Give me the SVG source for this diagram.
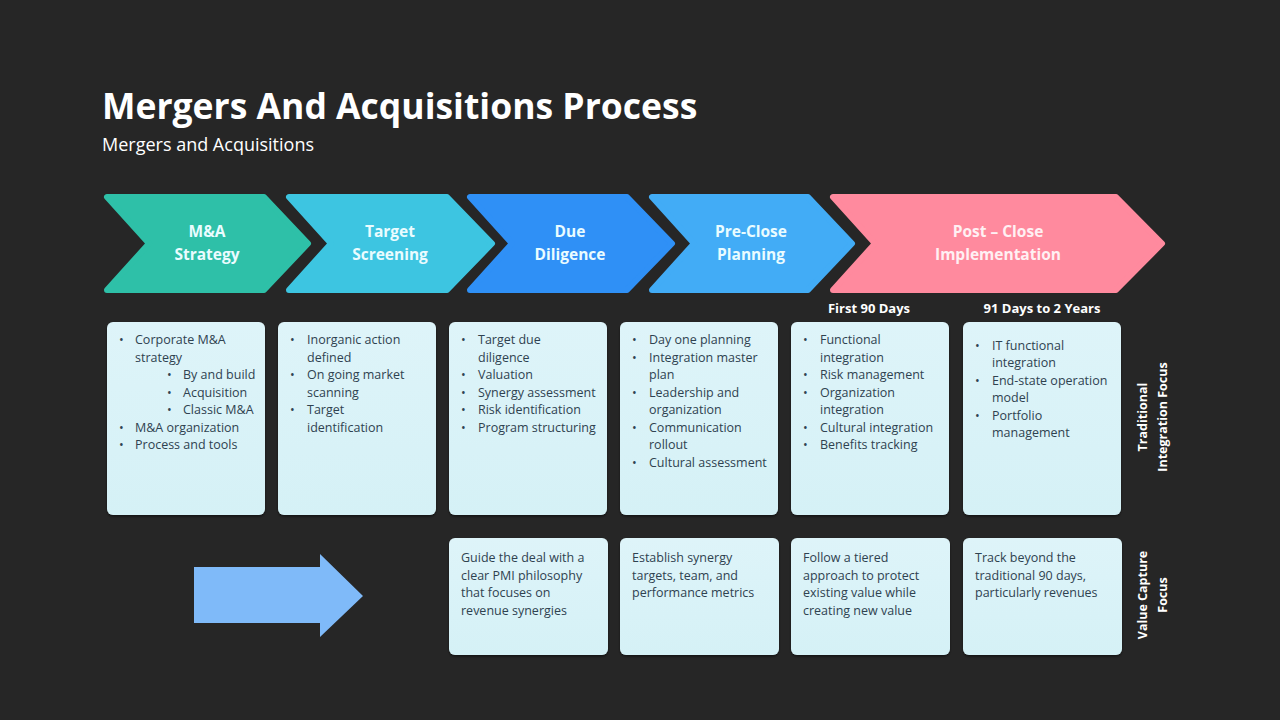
<svg xmlns="http://www.w3.org/2000/svg" width="1280" height="720" viewBox="0 0 1280 720">
<defs>
<style>
.title{font-family:"Open Sans","Liberation Sans",sans-serif;font-weight:700;font-size:35.5px;fill:#ffffff}
.sub{font-family:"Open Sans","Liberation Sans",sans-serif;font-size:18px;fill:#ffffff}
.chev{font-family:"Open Sans","Liberation Sans",sans-serif;font-weight:700;font-size:15.5px;fill:#eafcff;text-anchor:middle}
.phase{font-family:"Open Sans","Liberation Sans",sans-serif;font-weight:700;font-size:13px;fill:#ffffff;text-anchor:middle}
.box{fill:url(#boxg);filter:url(#sh)}
.t{font-family:"Open Sans","Liberation Sans",sans-serif;font-size:12.5px;fill:#2f4250}
.side{font-family:"Open Sans","Liberation Sans",sans-serif;font-weight:700;font-size:12.5px;fill:#ffffff;text-anchor:middle}
</style>
<linearGradient id="boxg" x1="0" y1="0" x2="0" y2="1">
<stop offset="0" stop-color="#def4f9"/>
<stop offset="1" stop-color="#d5f1f6"/>
</linearGradient>
<filter id="sh" x="-5%" y="-5%" width="110%" height="110%">
<feDropShadow dx="0" dy="1.5" stdDeviation="1" flood-color="#000000" flood-opacity="0.5"/>
</filter>
</defs>
<rect x="0" y="0" width="1280" height="720" fill="#262626"/>
<text class="title" x="102" y="119">Mergers And Acquisitions Process</text>
<text class="sub" x="102" y="151">Mergers and Acquisitions</text>

<g id="chevrons">
<g id="c1">
<polygon points="107,197 264,197 308,243.5 264,290 107,290 149,243.5" fill="#2ec0a8" stroke="#2ec0a8" stroke-width="6" stroke-linejoin="round"/>
<text class="chev" x="207" y="237">M&amp;A</text>
<text class="chev" x="207" y="260">Strategy</text>
</g>
<g id="c2">
<polygon points="289,197 447,197 492,243.5 447,290 289,290 331,243.5" fill="#3dc5e1" stroke="#3dc5e1" stroke-width="6" stroke-linejoin="round"/>
<text class="chev" x="390" y="237">Target</text>
<text class="chev" x="390" y="260">Screening</text>
</g>
<g id="c3">
<polygon points="470,197 627,197 672,243.5 627,290 470,290 512,243.5" fill="#2f90f6" stroke="#2f90f6" stroke-width="6" stroke-linejoin="round"/>
<text class="chev" x="570" y="237">Due</text>
<text class="chev" x="570" y="260">Diligence</text>
</g>
<g id="c4">
<polygon points="652,197 808,197 852,243.5 808,290 652,290 694,243.5" fill="#42acf6" stroke="#42acf6" stroke-width="6" stroke-linejoin="round"/>
<text class="chev" x="751" y="237">Pre-Close</text>
<text class="chev" x="751" y="260">Planning</text>
</g>
<g id="c5">
<polygon points="833,197 1116,197 1162,243.5 1116,290 833,290 875,243.5" fill="#ff8a9e" stroke="#ff8a9e" stroke-width="6" stroke-linejoin="round"/>
<text class="chev" x="998" y="237" style="fill:#fff0f3">Post – Close</text>
<text class="chev" x="998" y="260" style="fill:#fff0f3">Implementation</text>
</g>
</g>

<text class="phase" x="869" y="313">First 90 Days</text>
<text class="phase" x="1042" y="313">91 Days to 2 Years</text>

<g id="b1">
<rect class="box" x="107" y="322" width="158" height="193" rx="6"/>
<text class="t" x="119" y="344">•</text><text class="t" x="135" y="344">Corporate M&amp;A</text>
<text class="t" x="135" y="361.5">strategy</text>
<text class="t" x="167" y="379">•</text><text class="t" x="183" y="379">By and build</text>
<text class="t" x="167" y="396.5">•</text><text class="t" x="183" y="396.5">Acquisition</text>
<text class="t" x="167" y="414">•</text><text class="t" x="183" y="414">Classic M&amp;A</text>
<text class="t" x="119" y="431.5">•</text><text class="t" x="135" y="431.5">M&amp;A organization</text>
<text class="t" x="119" y="449">•</text><text class="t" x="135" y="449">Process and tools</text>
</g>
<g id="b2">
<rect class="box" x="278" y="322" width="158" height="193" rx="6"/>
<text class="t" x="290" y="344">•</text><text class="t" x="307" y="344">Inorganic action</text>
<text class="t" x="307" y="361.5">defined</text>
<text class="t" x="290" y="379">•</text><text class="t" x="307" y="379">On going market</text>
<text class="t" x="307" y="396.5">scanning</text>
<text class="t" x="290" y="414">•</text><text class="t" x="307" y="414">Target</text>
<text class="t" x="307" y="431.5">identification</text>
</g>
<g id="b3">
<rect class="box" x="449" y="322" width="158" height="193" rx="6"/>
<text class="t" x="461" y="344">•</text><text class="t" x="478" y="344">Target due</text>
<text class="t" x="478" y="361.5">diligence</text>
<text class="t" x="461" y="379">•</text><text class="t" x="478" y="379">Valuation</text>
<text class="t" x="461" y="396.5">•</text><text class="t" x="478" y="396.5">Synergy assessment</text>
<text class="t" x="461" y="414">•</text><text class="t" x="478" y="414">Risk identification</text>
<text class="t" x="461" y="431.5">•</text><text class="t" x="478" y="431.5">Program structuring</text>
</g>
<g id="b4">
<rect class="box" x="620" y="322" width="158" height="193" rx="6"/>
<text class="t" x="632" y="344">•</text><text class="t" x="649" y="344">Day one planning</text>
<text class="t" x="632" y="361.5">•</text><text class="t" x="649" y="361.5">Integration master</text>
<text class="t" x="649" y="379">plan</text>
<text class="t" x="632" y="396.5">•</text><text class="t" x="649" y="396.5">Leadership and</text>
<text class="t" x="649" y="414">organization</text>
<text class="t" x="632" y="431.5">•</text><text class="t" x="649" y="431.5">Communication</text>
<text class="t" x="649" y="449">rollout</text>
<text class="t" x="632" y="466.5">•</text><text class="t" x="649" y="466.5">Cultural assessment</text>
</g>
<g id="b5">
<rect class="box" x="791" y="322" width="158" height="193" rx="6"/>
<text class="t" x="803" y="344">•</text><text class="t" x="820" y="344">Functional</text>
<text class="t" x="820" y="361.5">integration</text>
<text class="t" x="803" y="379">•</text><text class="t" x="820" y="379">Risk management</text>
<text class="t" x="803" y="396.5">•</text><text class="t" x="820" y="396.5">Organization</text>
<text class="t" x="820" y="414">integration</text>
<text class="t" x="803" y="431.5">•</text><text class="t" x="820" y="431.5">Cultural integration</text>
<text class="t" x="803" y="449">•</text><text class="t" x="820" y="449">Benefits tracking</text>
</g>
<g id="b6">
<rect class="box" x="963" y="322" width="158" height="193" rx="6"/>
<text class="t" x="975" y="350">•</text><text class="t" x="992" y="350">IT functional</text>
<text class="t" x="992" y="367">integration</text>
<text class="t" x="975" y="385">•</text><text class="t" x="992" y="385">End-state operation</text>
<text class="t" x="992" y="402">model</text>
<text class="t" x="975" y="419.5">•</text><text class="t" x="992" y="419.5">Portfolio</text>
<text class="t" x="992" y="437">management</text>
</g>

<g id="v3">
<rect class="box" x="449" y="538" width="159" height="117" rx="6"/>
<text class="t" x="461" y="562">Guide the deal with a</text>
<text class="t" x="461" y="579.5">clear PMI philosophy</text>
<text class="t" x="461" y="597">that focuses on</text>
<text class="t" x="461" y="614.5">revenue synergies</text>
</g>
<g id="v4">
<rect class="box" x="620" y="538" width="159" height="117" rx="6"/>
<text class="t" x="632" y="562">Establish synergy</text>
<text class="t" x="632" y="579.5">targets, team, and</text>
<text class="t" x="632" y="597">performance metrics</text>
</g>
<g id="v5">
<rect class="box" x="791" y="538" width="159" height="117" rx="6"/>
<text class="t" x="803" y="562">Follow a tiered</text>
<text class="t" x="803" y="579.5">approach to protect</text>
<text class="t" x="803" y="597">existing value while</text>
<text class="t" x="803" y="614.5">creating new value</text>
</g>
<g id="v6">
<rect class="box" x="963" y="538" width="159" height="117" rx="6"/>
<text class="t" x="975" y="562">Track beyond the</text>
<text class="t" x="975" y="579.5">traditional 90 days,</text>
<text class="t" x="975" y="597">particularly revenues</text>
</g>

<g id="side-labels">
<text class="side" transform="translate(1142,417) rotate(-90)"><tspan x="0" y="4.5">Traditional</tspan><tspan x="0" y="24.5">Integration Focus</tspan></text>
<text class="side" transform="translate(1142,595) rotate(-90)"><tspan x="0" y="4.5">Value Capture</tspan><tspan x="0" y="24.5">Focus</tspan></text>
</g>

<g id="connectors">
<polygon points="194,567 320,567 320,554 363,596 320,637 320,623 194,623" fill="#7fbaf9"/>
</g>
</svg>
